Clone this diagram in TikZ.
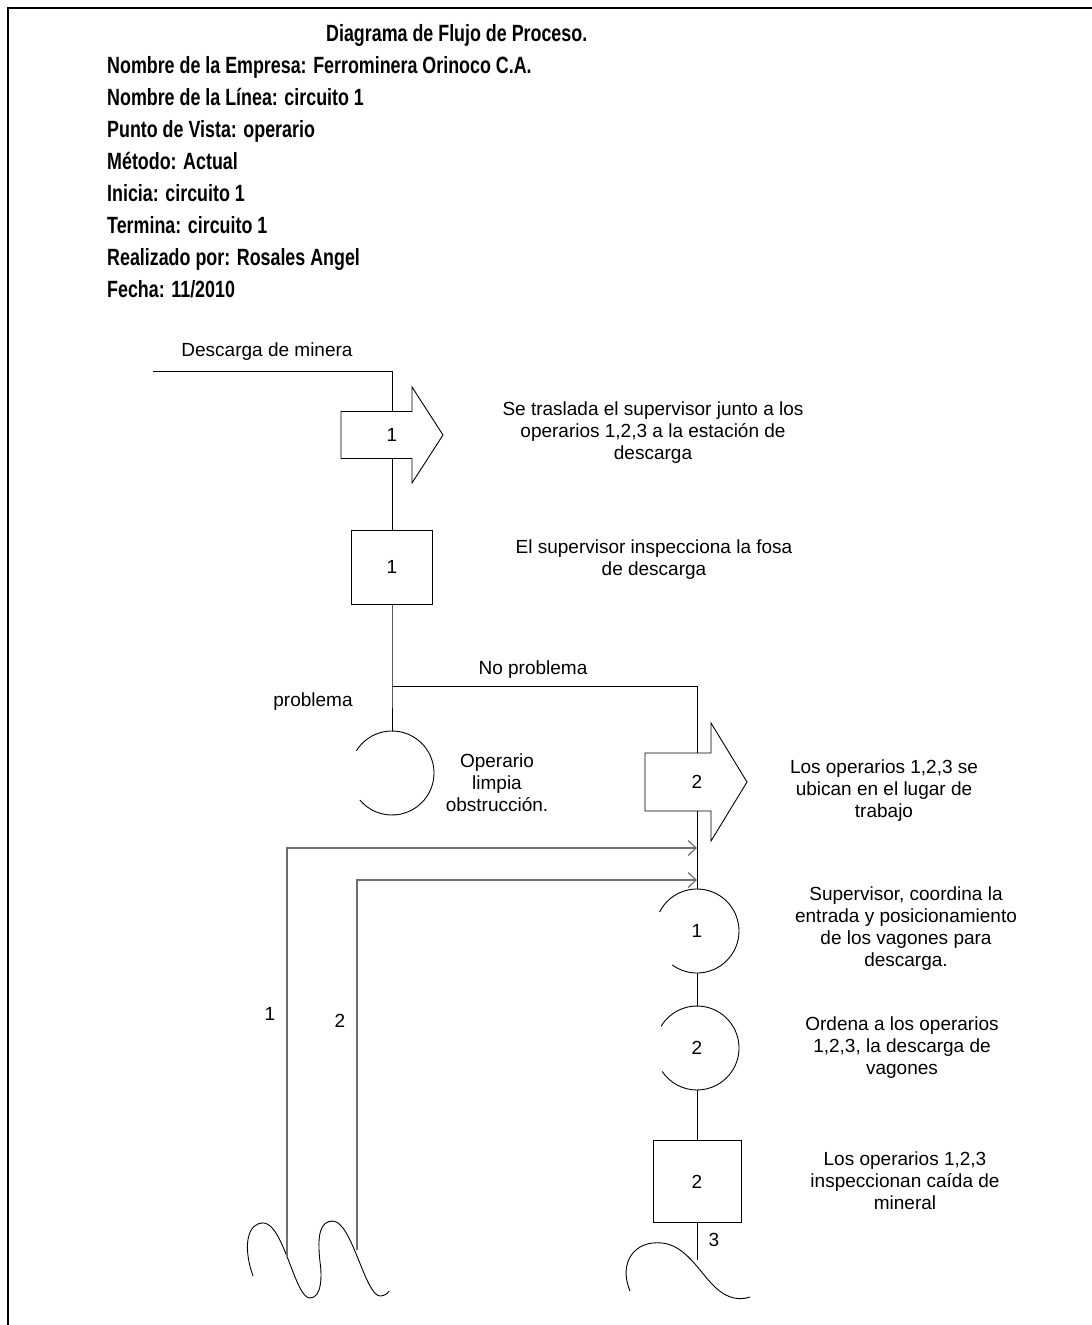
\documentclass[tikz,border=0pt]{standalone}
\usepackage{fontspec}
\setmainfont{Liberation Sans}
\usetikzlibrary{arrows.meta}
\definecolor{lineagris}{HTML}{6E6E6E}

\tikzset{
  simb/.style={draw=black,line width=0.9pt},
  conector/.style={black,line width=0.9pt},
  retorno/.style={lineagris,line width=1.2pt,-{Straight Barb[length=8pt,width=15pt]}},
  texto/.style={align=center,inner sep=0pt,font=\fontsize{19}{22}\selectfont},
  encab/.style={anchor=base west,inner sep=0pt,font=\fontsize{23.5}{27}\selectfont\bfseries},
  insp/.style={draw,line width=0.9pt,rectangle,inner sep=0pt,font=\fontsize{19}{22}\selectfont},
  oper/.style={circle,minimum size=84pt,inner sep=0pt,outer sep=0pt,font=\fontsize{19}{22}\selectfont},
}
\newcommand{\angosto}[1]{\scalebox{0.76}[1]{#1}}

\begin{document}
\begin{tikzpicture}[x=1pt,y=-1pt]
\useasboundingbox (0,0) rectangle (1092,1325);
% marco
\draw[line width=2.4pt] (8,1325) -- (8,8) -- (1092,8);

% encabezado
\node[encab] (titulo) at (326,41) {\angosto{Diagrama de Flujo de Proceso.}};
\node[encab] (empresa) at (107,73) {\angosto{Nombre de la Empresa: Ferrominera Orinoco C.A.}};
\node[encab] (linea) at (107,105) {\angosto{Nombre de la Línea: circuito 1}};
\node[encab] (vista) at (107,137) {\angosto{Punto de Vista: operario}};
\node[encab] (metodo) at (107,169) {\angosto{Método: Actual}};
\node[encab] (inicia) at (107,201) {\angosto{Inicia: circuito 1}};
\node[encab] (termina) at (107,233) {\angosto{Termina: circuito 1}};
\node[encab] (autor) at (107,265) {\angosto{Realizado por: Rosales Angel}};
\node[encab] (fecha) at (107,297) {\angosto{Fecha: 11/2010}};

% entrada
\node[texto] (entrada) at (267,352) {Descarga de minera};
\coordinate (ini) at (153,371);
\coordinate (codo) at (392,371);

% transporte 1
\node[texto] (t1) at (392,435) {1};
\draw[simb] ([shift={(-51,-23.5)}]t1.center) -- ([shift={(20,-23.5)}]t1.center)
  -- ([shift={(20,-48)}]t1.center) -- ([shift={(51,0)}]t1.center)
  -- ([shift={(20,48)}]t1.center) -- ([shift={(20,23.5)}]t1.center)
  -- ([shift={(-51,23.5)}]t1.center) -- cycle;
\coordinate (t1n) at ([yshift=23.5pt]t1.center);
\coordinate (t1s) at ([yshift=-23.5pt]t1.center);

% inspeccion 1
\node[insp,minimum width=81pt,minimum height=74pt] (s1) at (392,567) {1};

% bifurcacion
\coordinate (rama) at (392,686);
\coordinate (rama2) at (697,686);

% operacion limpieza
\node[oper] (o3) at (392,773) {};
\draw[simb] (o3.148) arc[start angle=148,end angle=-140,radius=42pt];

% transporte 2
\node[texto] (t2) at (697,782) {2};
\draw[simb] ([shift={(-52,-29)}]t2.center) -- ([shift={(14,-29)}]t2.center)
  -- ([shift={(14,-59)}]t2.center) -- ([shift={(50,0)}]t2.center)
  -- ([shift={(14,59)}]t2.center) -- ([shift={(14,29)}]t2.center)
  -- ([shift={(-52,29)}]t2.center) -- cycle;
\coordinate (t2n) at ([yshift=29pt]t2.center);
\coordinate (t2s) at ([yshift=-29pt]t2.center);

% operaciones 1 y 2
\node[oper] (o1) at (697,931) {1};
\draw[simb] (o1.153) arc[start angle=153,end angle=-126,radius=42pt];
\node[oper] (o2) at (697,1048) {2};
\draw[simb] (o2.149) arc[start angle=149,end angle=-146,radius=42pt];

% inspeccion 2
\node[insp,minimum width=88pt,minimum height=82pt] (s2) at (697,1181.5) {2};

% almacenes
\draw[simb] (253,1276) .. controls (242,1245) and (248,1222) .. (264,1223)
  .. controls (284,1225) and (295,1298) .. (310,1298)
  .. controls (322,1298) and (322,1275) .. (320,1262)
  .. controls (317,1235) and (320,1221) .. (333,1221)
  .. controls (352,1222) and (365,1295) .. (380,1296)
  .. controls (385,1296) and (388,1293) .. (389,1291);
\draw[simb] (630,1291) .. controls (618,1262) and (635,1240) .. (662,1243)
  .. controls (685,1245) and (700,1272) .. (712,1284)
  .. controls (722,1295) and (735,1302) .. (750,1297);
\coordinate (fin1) at (287,1256);
\coordinate (fin2) at (357,1250);
\coordinate (fin3) at (697,1260);
\coordinate (m1) at (697,848);
\coordinate (m2) at (697,880);

% conectores
\draw[conector] (ini) -- (codo) -- (t1n);
\draw[conector] (t1s) -- (s1.north);
\draw[conector] (s1.south) -- (rama) -- (o3.north);
\draw[conector] (rama) -- (rama2) -- (t2n);
\draw[conector] (t2s) -- (o1.north);
\draw[conector] (o1.south) -- (o2.north);
\draw[conector] (o2.south) -- (s2.north);
\draw[conector] (s2.south) -- (fin3);
\draw[retorno] (fin1) |- (m1);
\draw[retorno] (fin2) |- (m2);

% textos
\node[texto] (d1) at (653,433) {Se traslada el supervisor junto a los\\operarios 1,2,3 a la estación de\\descarga};
\node[texto] (d2) at (654,560) {El supervisor inspecciona la fosa\\de descarga};
\node[texto] (noprob) at (533,670) {No problema};
\node[texto] (prob) at (313,702) {problema};
\node[texto] (d3) at (497,783) {Operario\\limpia\\obstrucción.};
\node[texto] (d4) at (884,791) {Los operarios 1,2,3 se\\ubican en el lugar de\\trabajo};
\node[texto] (d5) at (906,929) {Supervisor, coordina la\\entrada y posicionamiento\\de los vagones para\\descarga.};
\node[texto] (d6) at (902,1048) {Ordena a los operarios\\1,2,3, la descarga de\\vagones};
\node[texto] (d7) at (905,1181) {Los operarios 1,2,3\\inspeccionan caída de\\mineral};
\node[texto] (e1) at (270,1014) {1};
\node[texto] (e2) at (340,1021) {2};
\node[texto] (e3) at (714,1240) {3};
\end{tikzpicture}
\end{document}
